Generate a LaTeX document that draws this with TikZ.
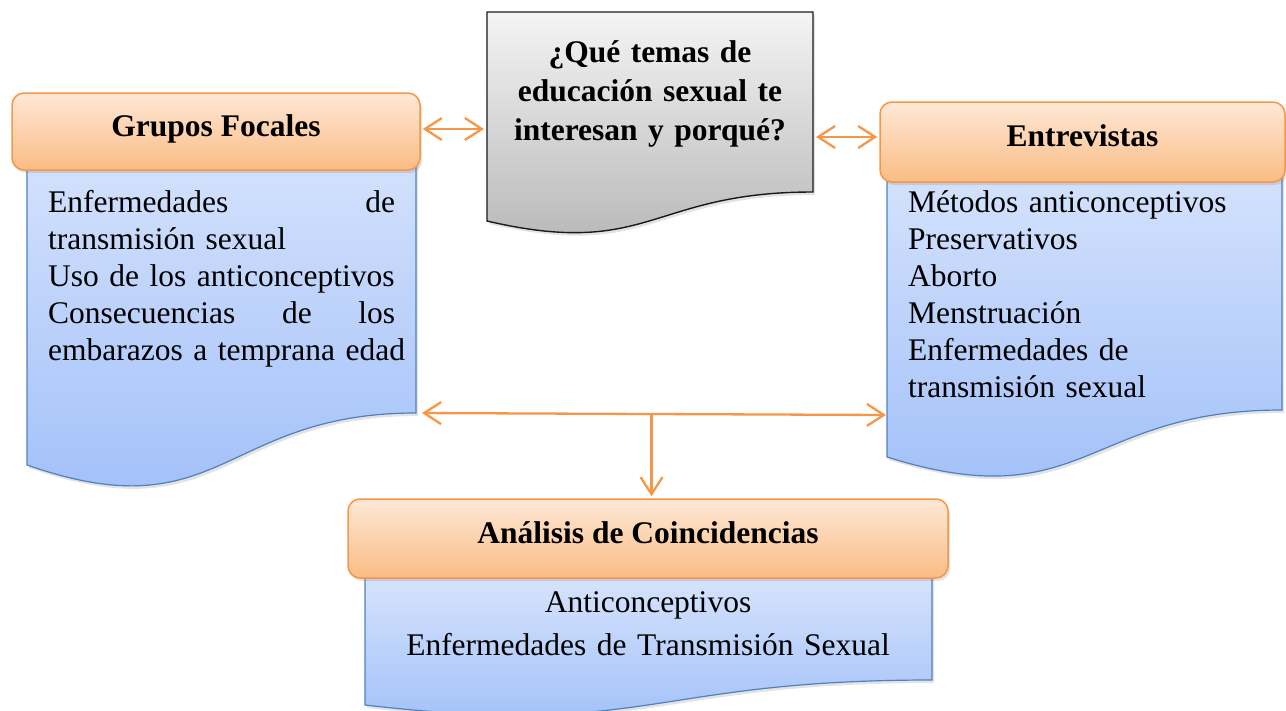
\documentclass[tikz,border=0pt]{standalone}
\usepackage{fontspec}
\setmainfont{Liberation Serif}
\usetikzlibrary{arrows.meta,shadows,calc}
\definecolor{orB}{HTML}{F79646}
\definecolor{orT}{HTML}{FEE8D6}
\definecolor{orBot}{HTML}{FABC85}
\definecolor{blB}{HTML}{4F81BD}
\definecolor{blT}{HTML}{DCE7FD}
\definecolor{blBot}{HTML}{9DBDF8}
\definecolor{gyT}{HTML}{F4F4F4}
\definecolor{gyBot}{HTML}{B4B4B4}
\definecolor{gyB}{HTML}{1A1A1A}
\tikzset{obarb/.tip={Straight Barb[length=17pt,width=22pt]}}
\begin{document}
\begin{tikzpicture}[x=1pt,y=-1pt,
  shad/.style={drop shadow={opacity=0.22,shadow xshift=2pt,shadow yshift=-3pt}},
  bodyshape/.style={draw=blB,line width=1.2pt,top color=blT,bottom color=blBot,shad},
  qshape/.style={draw=gyB,line width=1.4pt,top color=gyT,bottom color=gyBot,shad},
  header/.style={draw=orB,line width=1.5pt,rounded corners=12pt,top color=orT,bottom color=orBot,
    font=\bfseries\fontsize{31.5}{37}\selectfont,text height=22pt,text depth=13pt,inner sep=0pt,shad},
  bodytext/.style={font=\fontsize{31.5}{37}\selectfont,inner sep=0pt},
  conn/.style={draw=orB,line width=2.3pt}
]
\useasboundingbox (0,0) rectangle (1286,710);

% document bodies
\path[bodyshape] (27,97) -- (416,97) -- (416,413) .. controls (221.5,413) and (221.5,533) .. (27,465) -- cycle;
\path[bodyshape] (887,124) -- (1282,124) -- (1282,410) .. controls (1084.5,410) and (1084.5,519) .. (887,457) -- cycle;
\path[bodyshape] (365,560) -- (932,560) -- (932,680) .. controls (648.5,680) and (648.5,738) .. (365,705) -- cycle;
\path[qshape] (487,12) -- (813,12) -- (813,192) .. controls (650,192) and (650,259) .. (487,221) -- cycle;

% connection points on the document shapes
\coordinate (qL) at (487,129);
\coordinate (qR) at (813,137);
\coordinate (gfB) at (416,413);
\coordinate (enL) at (887,415);
\coordinate (j) at ($(gfB)!0.5!(enL)$);

% headers
\node[header,minimum width=408pt,minimum height=77pt] (gf) at (216,131.5) {Grupos Focales};
\node[header,minimum width=405pt,minimum height=80pt] (en) at (1082.5,142) {Entrevistas};
\node[header,minimum width=600pt,minimum height=79pt] (an) at (648,538.5) {Análisis de Coincidencias};

% texts
\node[bodytext,anchor=base,text width=330pt,align=center,font=\bfseries\fontsize{31.5}{39}\selectfont] (q) at (650,62)
  {¿Qué temas de\\educación sexual te\\interesan y porqué?};
\node[bodytext,anchor=base west,text width=347pt,align=left] (gft) at (48,212)
  {Enfermedades\hfill de\\transmisión sexual\\Uso de los anticonceptivos\\Consecuencias\hfill de\hfill los\\\mbox{embarazos a temprana edad}};
\node[bodytext,anchor=base west,text width=370pt,align=left] (ent) at (908,212)
  {Métodos anticonceptivos\\Preservativos\\Aborto\\Menstruación\\Enfermedades de\\transmisión sexual};
\node[bodytext,anchor=base,text width=560pt,align=center,font=\fontsize{31.5}{43}\selectfont] (ant) at (648,612)
  {Anticonceptivos\\Enfermedades de Transmisión Sexual};

% connectors
\draw[conn,obarb-obarb,shorten <=2pt,shorten >=3pt] (gf.east |- qL) -- (qL);
\draw[conn,obarb-obarb,shorten <=3pt,shorten >=2pt] (qR) -- (en.west |- qR);
\draw[conn,obarb-obarb,shorten <=6pt,shorten >=1pt] (gfB) -- (enL);
\draw[conn,-obarb,shorten >=2pt] (j) -- (j |- an.north);
\end{tikzpicture}
\end{document}
